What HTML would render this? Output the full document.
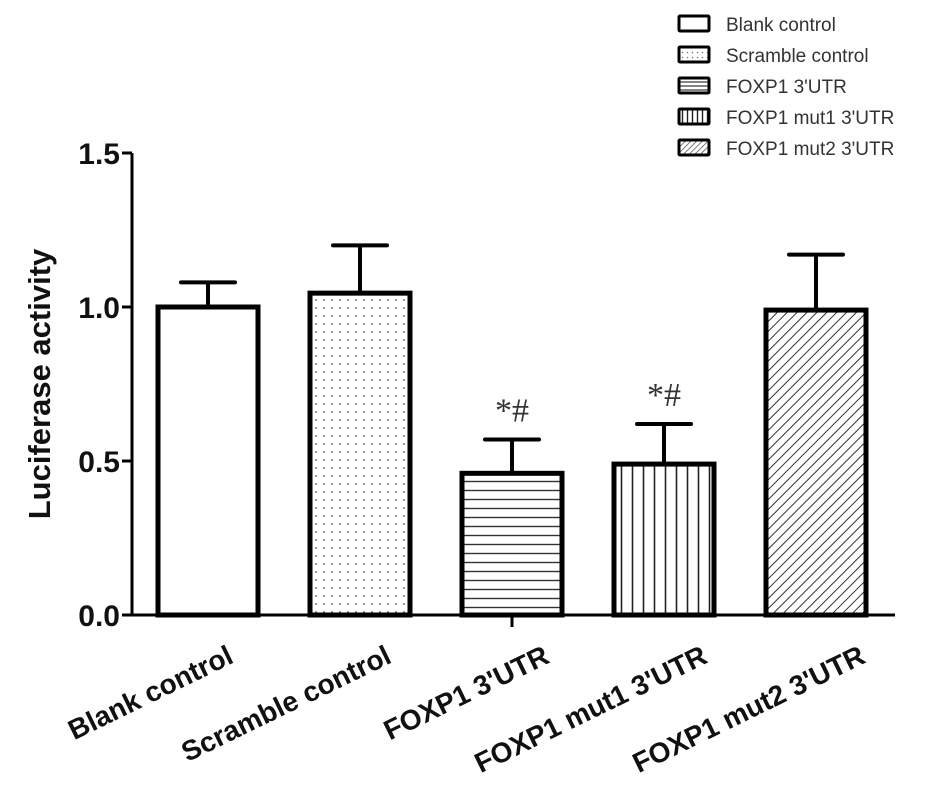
<!DOCTYPE html>
<html><head><meta charset="utf-8"><style>
body{margin:0;background:#fff}
svg{display:block;font-family:"Liberation Sans",Arial,sans-serif}
</style></head><body>
<svg width="933" height="799" viewBox="0 0 933 799">
<defs>
<pattern id="dots" width="8" height="8" patternUnits="userSpaceOnUse"><circle cx="4" cy="4" r="1" fill="#777"/></pattern>
<pattern id="hlines" width="10" height="9" patternUnits="userSpaceOnUse"><line x1="0" y1="4.5" x2="10" y2="4.5" stroke="#333" stroke-width="1.4"/></pattern>
<pattern id="vlines" width="11" height="10" patternUnits="userSpaceOnUse"><line x1="5.5" y1="0" x2="5.5" y2="10" stroke="#222" stroke-width="1.6"/></pattern>
<pattern id="diag" width="7" height="7" patternUnits="userSpaceOnUse" patternTransform="rotate(45)"><line x1="0" y1="0" x2="0" y2="7" stroke="#333" stroke-width="2"/></pattern>
<pattern id="ldots" width="5" height="5" patternUnits="userSpaceOnUse"><circle cx="2.5" cy="2.5" r="0.8" fill="#777"/></pattern>
<pattern id="lh" width="5" height="4" patternUnits="userSpaceOnUse"><line x1="0" y1="2" x2="5" y2="2" stroke="#333" stroke-width="1.2"/></pattern>
<pattern id="lv" width="5" height="5" patternUnits="userSpaceOnUse"><line x1="2.5" y1="0" x2="2.5" y2="5" stroke="#222" stroke-width="1.4"/></pattern>
<pattern id="ld" width="4" height="4" patternUnits="userSpaceOnUse" patternTransform="rotate(45)"><line x1="0" y1="0" x2="0" y2="4" stroke="#444" stroke-width="1.4"/></pattern>
</defs>
<g id="plot"></g>
</svg>
<script>
const categories=["Blank control","Scramble control","FOXP1 3'UTR","FOXP1 mut1 3'UTR","FOXP1 mut2 3'UTR"];
const values=[1.00,1.045,0.46,0.49,0.99];
const errors=[0.08,0.155,0.11,0.13,0.18];
const annotations=["","","*#","*#",""];
const yTicks=[0,0.5,1.0,1.5];
const yTickLabels=["0.0","0.5","1.0","1.5"];
const fills=["#fff","url(#dots)","url(#hlines)","url(#vlines)","url(#diag)"];
const legendFills=["#fff","url(#ldots)","url(#lh)","url(#lv)","url(#ld)"];

const NS="http://www.w3.org/2000/svg";
const g=document.getElementById('plot');
const x0=132,x1=895,y0=615,yTop=153;
const y=v=>y0-(v/1.5)*(y0-yTop);
const xc=i=>208+i*152;
const bw=100;
function mk(tag,attrs,parent){const e=document.createElementNS(NS,tag);for(const k in attrs)e.setAttribute(k,attrs[k]);(parent||g).appendChild(e);return e;}

let ax=mk('line',{x1:x0,y1:y0,x2:x0,y2:yTop,stroke:'#000','stroke-width':3});


yTicks.forEach((t,i)=>{
  let tk=mk('line',{x1:x0-10,y1:y(t),x2:x0,y2:y(t),stroke:'#000','stroke-width':3});
  
  
  let tl=mk('text',{x:x0-12,y:y(t)+11,'text-anchor':'end','font-size':30,'font-weight':'bold',fill:'#111'});
  tl.textContent=yTickLabels[i];
  
  
});
let yt=mk('text',{x:0,y:0,transform:'translate(50,384) rotate(-90)','text-anchor':'middle','font-size':31,'font-weight':'bold',fill:'#111'});
yt.textContent='Luciferase activity';



categories.forEach((c,i)=>{
  const cx=xc(i),top=y(values[i]),et=y(values[i]+errors[i]);
  let eb=mk('line',{x1:cx,y1:top,x2:cx,y2:et,stroke:'#000','stroke-width':4});
  
  
  let cap=mk('line',{x1:cx-27,y1:et,x2:cx+27,y2:et,stroke:'#000','stroke-width':4,'stroke-linecap':'round'});
  
  
  let b=mk('rect',{x:cx-bw/2,y:top,width:bw,height:y0-top,fill:fills[i],stroke:'#000','stroke-width':5});
  
  
  if(annotations[i]){
    let a=mk('text',{x:cx,y:et-18,'text-anchor':'middle','font-size':34,fill:'#333','font-family':'"Liberation Serif",serif'});
    a.textContent=annotations[i];
    
    
  }
  let xl=mk('text',{x:0,y:0,transform:`translate(${cx+27+6*i},${y0+47}) rotate(-26)`,'text-anchor':'end','font-size':28,'font-weight':'bold',fill:'#111'});
  xl.textContent=c;
  
  
});
let xa=mk('line',{x1:x0,y1:y0,x2:x1,y2:y0,stroke:'#000','stroke-width':3});


let xt=mk('line',{x1:xc(2),y1:y0,x2:xc(2),y2:y0+12,stroke:'#000','stroke-width':3});



categories.forEach((c,i)=>{
  const ly=16+i*31;
  let r=mk('rect',{x:679,y:ly,width:30,height:15,fill:legendFills[i],stroke:'#000','stroke-width':3,rx:1});
  
  
  let t=mk('text',{x:726,y:ly+15,'font-size':19,fill:'#333'});
  t.textContent=c;
  
  
});
</script>
</body></html>
